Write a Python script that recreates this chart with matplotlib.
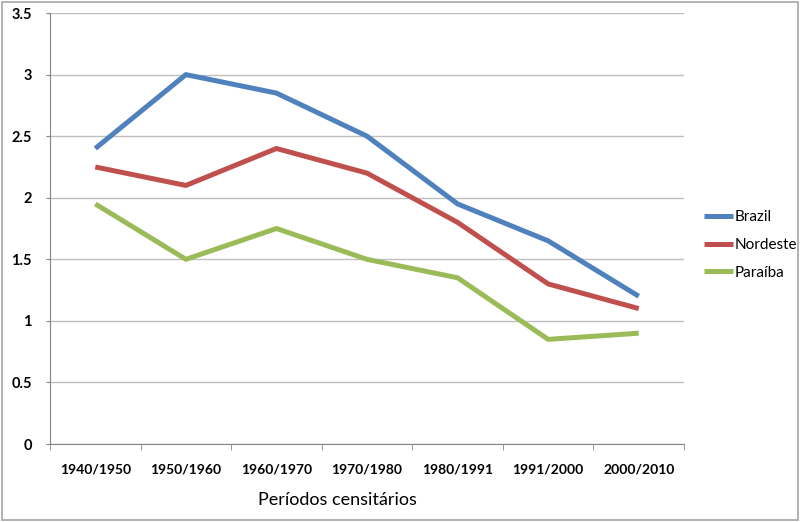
import matplotlib.pyplot as plt
import numpy as np
from matplotlib.patches import Rectangle

periods = ['1940/1950', '1950/1960', '1960/1970', '1970/1980',
           '1980/1991', '1991/2000', '2000/2010']
brazil = [2.4, 3.0, 2.85, 2.5, 1.95, 1.65, 1.2]
nordeste = [2.25, 2.1, 2.4, 2.2, 1.8, 1.3, 1.1]
paraiba = [1.95, 1.5, 1.75, 1.5, 1.35, 0.85, 0.9]

plt.rcParams['font.family'] = ['Lato', 'DejaVu Sans']

fig = plt.figure(figsize=(8, 5.22), dpi=100)
ax = fig.add_axes([0.0625, 0.1494, 0.7925, 0.8256])

x = np.arange(len(periods))
ax.plot(x, brazil, color='#4F81BD', lw=3.6, label='Brazil', solid_capstyle='butt')
ax.plot(x, nordeste, color='#C0504D', lw=3.6, label='Nordeste', solid_capstyle='butt')
ax.plot(x, paraiba, color='#9BBB59', lw=3.6, label='Paraíba', solid_capstyle='butt')

ax.set_xlim(-0.5, len(periods) - 0.5)
ax.set_ylim(0, 3.5)
ax.set_yticks(np.arange(0, 3.51, 0.5))
ax.set_yticklabels(['0', '0.5', '1', '1.5', '2', '2.5', '3', '3.5'])
ax.set_xticks(x)
ax.set_xticklabels(periods)
ax.set_xticks(np.arange(-0.5, len(periods)), minor=True)
ax.tick_params(axis='x', which='major', length=0, pad=14, labelsize=10)
ax.tick_params(axis='x', which='minor', length=4, color='#868686', direction='out')
ax.tick_params(axis='y', length=3, color='#868686', pad=10, labelsize=10.5)
for lab in ax.get_xticklabels() + ax.get_yticklabels():
    lab.set_fontweight('bold')

ax.grid(axis='y', color='#BFBFBF', lw=1)
ax.set_axisbelow(True)
for s in ['top', 'right']:
    ax.spines[s].set_visible(False)
ax.spines['left'].set_color('#868686')
ax.spines['bottom'].set_color('#868686')

ax.set_xlabel('Períodos censitários', fontsize=13)
ax.xaxis.set_label_coords(0.453, -0.112)

ax.legend(loc='center left', bbox_to_anchor=(1.01, 0.462), frameon=False,
          fontsize=11, handlelength=1.9, handletextpad=0.1, labelspacing=0.9)

fig.patches.append(Rectangle((0.002, 0.003), 0.996, 0.994, transform=fig.transFigure,
                             fill=False, edgecolor='#A6A6A6', lw=1.2))

fig.savefig('out.png', dpi=100)
